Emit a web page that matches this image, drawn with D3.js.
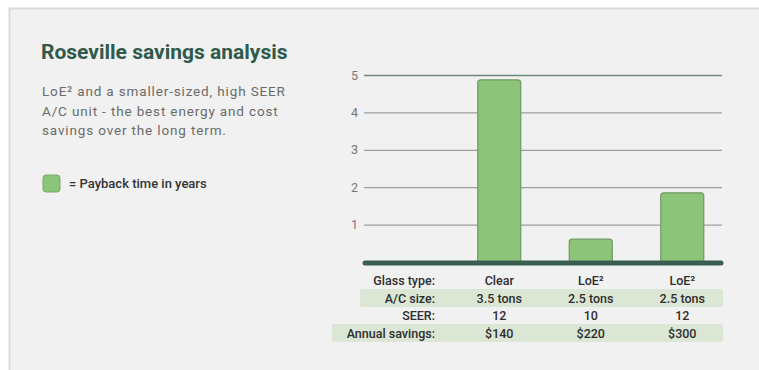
<!DOCTYPE html>
<html><head><meta charset="utf-8">
<script src="https://cdn.jsdelivr.net/npm/d3@7"></script>
<style>
html,body{margin:0;padding:0;background:#fff;}
svg{display:block;}
</style></head>
<body>
<script>
const categories = ["Clear", "LoE²", "LoE²"];
const payback = [4.87, 0.61, 1.85];
const yTicks = [1, 2, 3, 4, 5];
const rowLabels = ["Glass type:", "A/C size:", "SEER:", "Annual savings:"];
const glassType = ["Clear", "LoE²", "LoE²"];
const acSize = ["3.5 tons", "2.5 tons", "2.5 tons"];
const seer = ["12", "10", "12"];
const savings = ["$140", "$220", "$300"];
const title = "Roseville savings analysis";
const subtitle = ["LoE² and a smaller-sized, high SEER", "A/C unit - the best energy and cost", "savings over the long term."];
const legendLabel = "= Payback time in years";

const W = 759, H = 370;
const svg = d3.select("body").append("svg").attr("width", W).attr("height", H);

// panel
svg.append("rect").attr("x", 9.5).attr("y", 8.5).attr("width", W).attr("height", H)
  .attr("fill", "#f1f1f1").attr("stroke", "#dcdcdc").attr("stroke-width", 2);

const font = "Roboto, 'DejaVu Sans', sans-serif";

svg.append("text").attr("x", 41).attr("y", 59).text(title)
  .attr("font-family", font).attr("font-weight", 700).attr("font-size", 21)
  .attr("fill", "#2f5a4c");

svg.selectAll("text.sub").data(subtitle).join("text").attr("class", "sub")
  .attr("x", 42).attr("y", (d, i) => 96 + i * 19.5).text(d => d)
  .attr("font-family", font).attr("font-size", 13.5).attr("fill", "#6b6b6b")
  .attr("letter-spacing", 0.85);

// legend
svg.append("rect").attr("x", 43).attr("y", 175).attr("width", 17).attr("height", 17).attr("rx", 3)
  .attr("fill", "#8cc47a").attr("stroke", "#7aa86a").attr("stroke-width", 1);
svg.append("text").attr("x", 69).attr("y", 188).text(legendLabel)
  .attr("font-family", font).attr("font-weight", 500).attr("font-size", 13).attr("fill", "#333");

// scales
const cols = ["label", 0, 1, 2];
const x = d3.scaleBand().domain(cols).range([362, 728]);
const y = d3.scaleLinear().domain([0, 5]).range([262, 75]);
const barW = x.bandwidth() * 0.47;

// gridlines
const yAxis = d3.axisLeft(y).tickValues(yTicks).tickFormat(d3.format("d")).tickSize(-(722 - 364)).tickPadding(6);
const gy = svg.append("g").attr("transform", "translate(364,0)").call(yAxis);
gy.select(".domain").remove();
gy.selectAll(".tick line").attr("stroke", d => d === 5 ? "#6d8a80" : "#8a8a8a").attr("stroke-width", d => d === 5 ? 1.5 : 1);
gy.selectAll(".tick text").attr("font-family", font).attr("font-size", 12.5).attr("fill", "#777");

// bars
svg.selectAll("rect.bar").data(payback).join("rect").attr("class", "bar")
  .attr("x", (d, i) => x(i) + x.bandwidth() / 2 - barW / 2)
  .attr("y", d => y(d))
  .attr("width", barW)
  .attr("height", d => y(0) - y(d) + 2)
  .attr("rx", 3)
  .attr("fill", "#8cc47a").attr("stroke", "#6f9a64").attr("stroke-width", 1.2);

// baseline
svg.append("line").attr("x1", 365).attr("x2", 721).attr("y1", y(0) + 1).attr("y2", y(0) + 1)
  .attr("stroke", "#3a5d51").attr("stroke-width", 5).attr("stroke-linecap", "round");

// table
const rows = [glassType, acSize, seer, savings];
const rowY = [280, 298, 315, 333];
const bands = [null, [360, 723], null, [332, 723]];
bands.forEach((b, r) => {
  if (!b) return;
  svg.append("rect").attr("x", b[0]).attr("y", rowY[r] - 9).attr("width", b[1] - b[0]).attr("height", 18)
    .attr("rx", 2).attr("fill", "#dbe7d4");
});
svg.selectAll("text.rl").data(rowLabels).join("text").attr("class", "rl")
  .attr("x", 435).attr("y", (d, i) => rowY[i] + 4.5).attr("text-anchor", "end").text(d => d)
  .attr("font-family", font).attr("font-weight", 500).attr("font-size", 12.5).attr("fill", "#2e2e2e");
rows.forEach((vals, r) => {
  svg.selectAll("text.r" + r).data(vals).join("text").attr("class", "r" + r)
    .attr("x", (d, i) => x(i) + x.bandwidth() / 2).attr("y", rowY[r] + 4.5)
    .attr("text-anchor", "middle").text(d => d)
    .attr("font-family", font).attr("font-weight", 500).attr("font-size", 12.5).attr("fill", "#2e2e2e");
});
</script>
</body></html>
